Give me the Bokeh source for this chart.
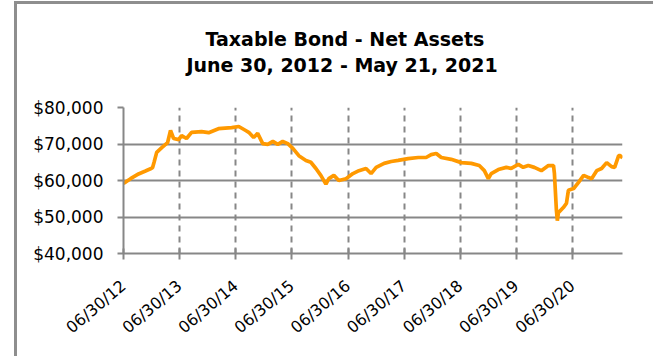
import math
import pandas as pd
from bokeh.plotting import figure
from bokeh.layouts import column, row
from bokeh.models import (FixedTicker, NumeralTickFormatter, Range1d, Title,
                          DatetimeTickFormatter, Div)
from bokeh.embed import file_html
from bokeh.resources import INLINE

title_line1 = "Taxable Bond - Net Assets"
title_line2 = "June 30, 2012 - May 21, 2021"

dates = ["2012-06-30", "2012-08-15", "2012-10-06", "2012-11-20", "2012-12-23", "2013-01-05",
         "2013-01-15", "2013-02-01", "2013-03-06", "2013-04-13", "2013-05-02", "2013-05-22",
         "2013-06-24", "2013-07-13", "2013-08-14", "2013-09-16", "2013-11-20", "2014-01-05",
         "2014-03-10", "2014-06-04", "2014-07-20", "2014-09-03", "2014-09-23", "2014-10-25",
         "2014-11-20", "2014-12-23", "2015-01-25", "2015-02-27", "2015-03-31", "2015-05-02",
         "2015-06-04", "2015-07-07", "2015-08-15", "2015-09-30", "2015-11-01", "2015-12-04",
         "2016-01-05", "2016-02-07", "2016-02-26", "2016-03-30", "2016-05-01", "2016-06-17",
         "2016-08-01", "2016-09-09", "2016-10-25", "2016-11-27", "2016-12-30", "2017-02-20",
         "2017-04-07", "2017-05-22", "2017-07-26", "2017-09-30", "2017-11-20", "2017-12-23",
         "2018-01-25", "2018-02-27", "2018-05-02", "2018-07-07", "2018-09-10", "2018-11-01",
         "2018-12-04", "2018-12-30", "2019-01-18", "2019-03-05", "2019-04-26", "2019-05-28",
         "2019-07-13", "2019-08-14", "2019-09-16", "2019-10-25", "2019-12-10", "2020-01-25",
         "2020-02-27", "2020-03-04", "2020-03-17", "2020-03-23", "2020-03-30", "2020-05-01",
         "2020-05-21", "2020-06-03", "2020-07-07", "2020-08-08", "2020-09-10", "2020-10-13",
         "2020-11-01", "2020-12-04", "2021-01-05", "2021-02-07", "2021-03-11", "2021-03-31",
         "2021-04-26", "2021-05-07", "2021-05-21"]

net_assets = [59200, 60500, 61800, 62600, 63200, 63500, 65000, 67700, 69000, 70400, 73700, 71500,
              71200, 72300, 71500, 73200, 73400, 73100, 74200, 74500, 74800, 73700, 73200, 71800,
              72900, 70100, 69900, 70700, 69900, 70700, 70100, 68800, 66800, 65500, 65000, 63300,
              61400, 59000, 60500, 61400, 60000, 60500, 61900, 62700, 63300, 61900, 63600, 64700,
              65200, 65500, 66000, 66300, 66300, 67100, 67400, 66300, 65800, 64900, 64700, 64100,
              62700, 60500, 61900, 63000, 63600, 63300, 64400, 63600, 64100, 63600, 62700, 64100,
              64100, 61900, 51800, 49000, 51200, 52600, 53700, 57300, 57800, 59500, 61400, 60800,
              60500, 62700, 63300, 64900, 63800, 63600, 66800, 66800, 66200]

y_ticks = [40000, 50000, 60000, 70000, 80000]
x_tick_dates = ["2012-06-30", "2013-06-30", "2014-06-30", "2015-06-30", "2016-06-30",
                "2017-06-30", "2018-06-30", "2019-06-30", "2020-06-30"]
x_tick_labels = ["06/30/12", "06/30/13", "06/30/14", "06/30/15", "06/30/16",
                 "06/30/17", "06/30/18", "06/30/19", "06/30/20"]
x_start, x_end = "2012-06-30", "2021-05-21"


def ms(d):
    return int(pd.Timestamp(d).value // 10**6)


GRAY = "#878787"
BORDER = "#8e8e8e"
FONT = "DejaVu Sans"
H = 352

p = figure(width=636, height=H, x_axis_type="datetime", output_backend="svg",
           toolbar_location=None, title=None,
           x_range=Range1d(ms(x_start), ms(x_end)), y_range=Range1d(40000, 80000),
           min_border_left=106, min_border_right=31, min_border_bottom=103, min_border_top=103)
p.margin = 0

p.line(x=pd.to_datetime(dates), y=net_assets, line_color="#FF9900", line_width=3.7)

# spacer closest to the frame, then the two title lines
p.add_layout(Title(text=" ", text_font_size="1px", standoff=29), "above")
p.add_layout(Title(text=title_line2, align="left", offset=63, text_font=FONT,
                   text_font_size="19px", text_font_style="bold", text_color="#000000",
                   standoff=0), "above")
p.add_layout(Title(text=title_line1, align="left", offset=82, text_font=FONT,
                   text_font_size="19px", text_font_style="bold", text_color="#000000",
                   standoff=4), "above")

p.outline_line_color = None
p.background_fill_color = "white"
p.border_fill_color = "white"

xt = FixedTicker(ticks=[ms(d) for d in x_tick_dates])
p.xaxis.ticker = xt
p.xaxis.formatter = DatetimeTickFormatter(days="%m/%d/%y", months="%m/%d/%y", years="%m/%d/%y")
p.xaxis.major_label_overrides = {ms(d): lab for d, lab in zip(x_tick_dates, x_tick_labels)}
p.xaxis.major_label_orientation = 0.70
p.xaxis.major_tick_in = 5
p.xaxis.major_tick_out = 6
p.xaxis.major_label_standoff = 24
p.xaxis.major_label_text_font_size = "16px"

p.yaxis.ticker = FixedTicker(ticks=y_ticks)
p.yaxis.formatter = NumeralTickFormatter(format="$0,0")
p.yaxis.major_tick_in = 0
p.yaxis.major_tick_out = 6
p.yaxis.major_label_standoff = 14
p.yaxis.major_label_text_font_size = "17px"

for ax in (p.xaxis, p.yaxis):
    ax.axis_line_color = GRAY
    ax.axis_line_width = 2
    ax.major_tick_line_color = GRAY
    ax.major_tick_line_width = 2
    ax.minor_tick_line_color = None
    ax.major_label_text_font = FONT
    ax.major_label_text_color = "#000000"

p.xgrid.ticker = xt
p.xgrid.grid_line_color = GRAY
p.xgrid.grid_line_width = 2
p.xgrid.grid_line_dash = "6 5"
p.ygrid.grid_line_color = GRAY
p.ygrid.grid_line_width = 2

top_gap = Div(text="", width=653, height=1, margin=0)
top_border = row(Div(text="", width=14, height=3, margin=0),
                 Div(text="", width=639, height=3, margin=0,
                     styles={"background-color": BORDER}),
                 spacing=0, margin=0)
body = row(Div(text="", width=14, height=H, margin=0),
           Div(text="", width=3, height=H, margin=0, styles={"background-color": BORDER}),
           p, spacing=0, margin=0)
layout = column(top_gap, top_border, body, spacing=0, margin=0)

open("out.html", "w").write(file_html(layout, INLINE))
